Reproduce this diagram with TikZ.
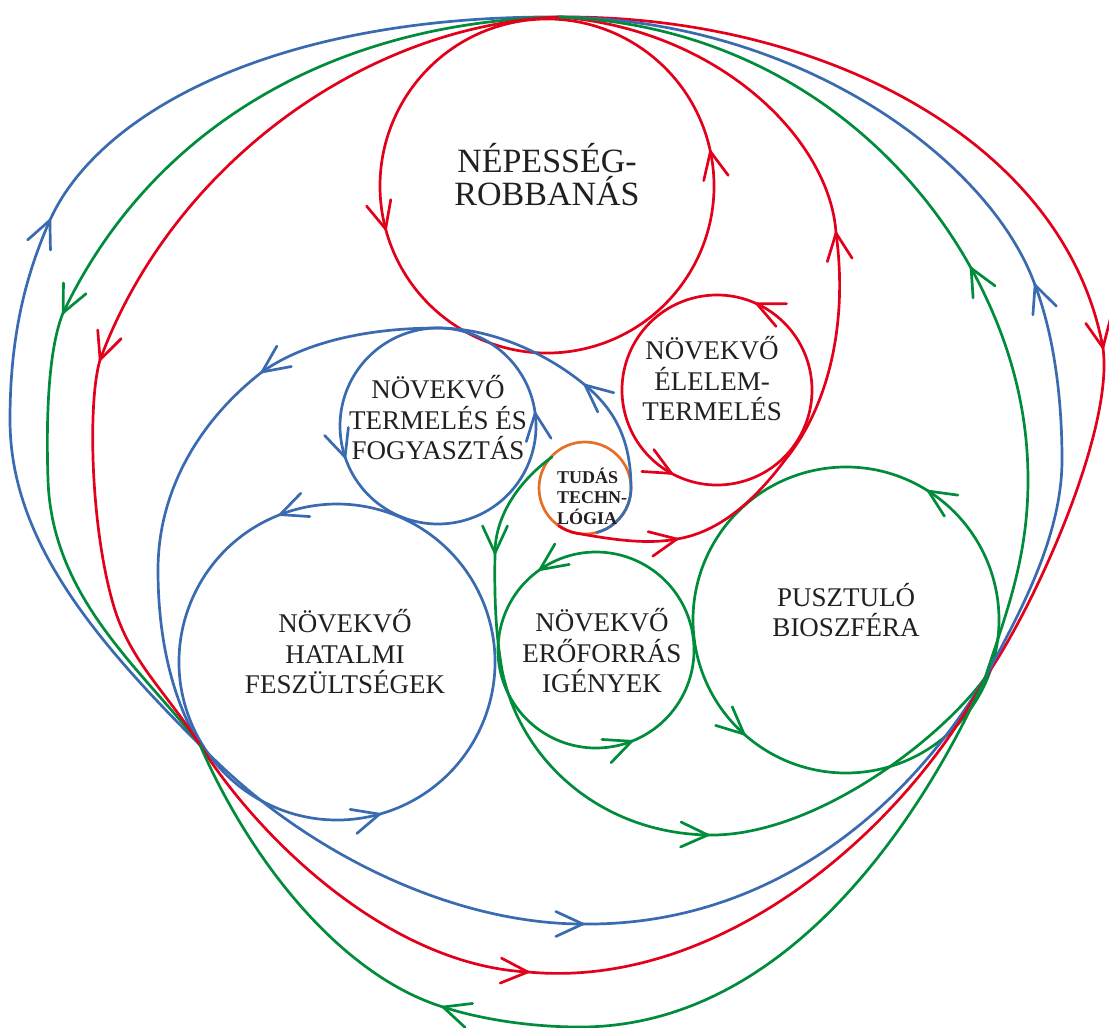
\documentclass[tikz,border=0pt]{standalone}
\usepackage{fontspec}
\setmainfont{Liberation Serif}
\usetikzlibrary{decorations.markings}
\definecolor{cred}{RGB}{226,0,26}
\definecolor{cblue}{RGB}{58,107,176}
\definecolor{cgreen}{RGB}{0,140,58}
\definecolor{corange}{RGB}{230,110,40}
\definecolor{ctext}{RGB}{35,31,32}
\begin{document}
\begin{tikzpicture}[x=1pt,y=-1pt,
 ln/.style={line width=2.7pt, line cap=round},
 rl/.style={ln, color=cred},
 bl/.style={ln, color=cblue},
 gl/.style={ln, color=cgreen},
 tip/.style={postaction={decorate}, decoration={markings,
   mark=at position 0.9995 with {\draw[line width=2.7pt, line cap=round, line join=miter] (-27pt,12.5pt) -- (0pt,0pt) -- (-27pt,-12.5pt);}}},
 lbl/.style={font=\fontsize{27}{30.5}\selectfont, text=ctext, align=center, inner sep=0pt},
]
\useasboundingbox (0,0) rectangle (1109,1028);
\coordinate (T) at (560,17);
\coordinate (L) at (200,745);
\coordinate (R) at (985,678);
\coordinate (Cnep) at (547,186);
\coordinate (Cele) at (717,390);
\coordinate (Cter) at (438,426);
\coordinate (Ctud) at (585,488);
\coordinate (Chat) at (337,662);
\coordinate (Ceri) at (596,650);
\coordinate (Cpus) at (846,620);

% ---- circles ----
\draw[rl,tip] (Cnep) ++(348:167) arc[start angle=348,end angle=165,radius=167];
\draw[rl,tip] (Cnep) ++(165:167) arc[start angle=165,end angle=-12,radius=167];
\draw[rl,tip] (Cele) ++(294.7:95) arc[start angle=294.7,end angle=118.5,radius=95];
\draw[rl,tip] (Cele) ++(118.5:95) arc[start angle=118.5,end angle=-65.3,radius=95];
\draw[bl,tip] (Cter) ++(352.4:98) arc[start angle=352.4,end angle=161.4,radius=98];
\draw[bl,tip] (Cter) ++(161.4:98) arc[start angle=161.4,end angle=-7.6,radius=98];
\draw[bl,tip] (Chat) ++(434.3:158) arc[start angle=434.3,end angle=248.8,radius=158];
\draw[bl,tip] (Chat) ++(248.8:158) arc[start angle=248.8,end angle=74.3,radius=158];
\draw[gl,tip] (Ceri) ++(428.6:98) arc[start angle=428.6,end angle=235,radius=98];
\draw[gl,tip] (Ceri) ++(235:98) arc[start angle=235,end angle=68.6,radius=98];
\draw[gl,tip] (Cpus) ++(302.5:153) arc[start angle=302.5,end angle=131.7,radius=153];
\draw[gl,tip] (Cpus) ++(131.7:153) arc[start angle=131.7,end angle=-57.5,radius=153];
\draw[ln, color=corange] (Ctud) circle[radius=46];

% ---- red: knowledge -> top ----
\draw[rl] (Ctud) ++(125:46) arc[start angle=125,end angle=100,radius=46];
\draw[rl,tip] (577,533.3) .. controls (610,539) and (645,545) .. (677,539);
\draw[rl] (677,539) .. controls (720,532) and (755,500) .. (785,460);
\draw[rl,tip] (785,460) .. controls (830,405) and (848,320) .. (836,233);
\draw[rl] (836,233) .. controls (830,140) and (720,30) .. (T);

% ---- blue: knowledge -> left ----
\draw[bl] (Ctud) ++(75:46) arc[start angle=75,end angle=0,radius=46];
\draw[bl,tip] (631,488) .. controls (631,440) and (615,410) .. (585,385);
\draw[bl] (585,385) .. controls (545,352) and (490,328) .. (438,328);
\draw[bl,tip] (438,328) .. controls (360,328) and (300,345) .. (262,372);
\draw[bl] (262,372) .. controls (200,420) and (158,490) .. (158,570) .. controls (158,630) and (169,694) .. (L);

% ---- green: knowledge -> right ----
\draw[gl,tip] (552,457) .. controls (520,480) and (495,515) .. (495,553);
\draw[gl,tip] (495,553) .. controls (494,610) and (497,640) .. (502,670) .. controls (520,760) and (600,833) .. (708,835);
\draw[gl] (708,835) .. controls (810,837) and (935,745) .. (R);

% ---- outer left ----
\draw[bl,tip] (L) .. controls (95,640) and (10,540) .. (10,420) .. controls (10,330) and (28,270) .. (50,220);
\draw[bl] (50,220) .. controls (100,110) and (280,15) .. (T);
\draw[gl,tip] (T) .. controls (330,22) and (150,130) .. (63,313);
\draw[gl] (63,313) .. controls (48,350) and (46,420) .. (48,480) .. controls (52,600) and (145,672) .. (L);
\draw[rl,tip] (T) .. controls (360,25) and (170,170) .. (100,360);
\draw[rl] (100,360) .. controls (88,400) and (90,520) .. (112,600) .. controls (128,660) and (165,690) .. (L);

% ---- outer right ----
\draw[rl,tip] (T) .. controls (820,15) and (1065,140) .. (1103,348);
\draw[rl] (1103,348) .. controls (1114,430) and (1035,606) .. (R);
\draw[bl,tip] (R) .. controls (1015,621) and (1062,540) .. (1062,460) .. controls (1062,390) and (1052,330) .. (1035,285);
\draw[bl] (1035,285) .. controls (990,160) and (800,20) .. (T);
\draw[gl,tip] (R) .. controls (1005,616) and (1028,560) .. (1028,480) .. controls (1028,400) and (1005,330) .. (971,268);
\draw[gl] (971,268) .. controls (900,140) and (760,25) .. (T);

% ---- bottom ----
\draw[bl,tip] (L) .. controls (300,850) and (450,924) .. (583,924);
\draw[bl] (583,924) .. controls (760,926) and (900,820) .. (R);
\draw[rl,tip] (L) .. controls (260,840) and (390,965) .. (528,972);
\draw[rl] (528,972) .. controls (720,990) and (905,830) .. (R);
\draw[gl] (R) .. controls (935,790) and (800,1027) .. (580,1027);
\draw[gl,tip] (580,1027) .. controls (530,1027) and (480,1019) .. (443,1007);
\draw[gl] (443,1007) .. controls (340,975) and (250,860) .. (L);

% ---- labels ----
\node[lbl, font=\fontsize{34}{33}\selectfont] (nep) at (547,175) {NÉPESSÉG-\\ROBBANÁS};
\node[lbl] (ele) at (712,379) {NÖVEKVŐ\\ÉLELEM-\\TERMELÉS};
\node[lbl] (ter) at (438,418) {NÖVEKVŐ\\TERMELÉS ÉS\\FOGYASZTÁS};
\node[lbl] (hat) at (345,652) {NÖVEKVŐ\\HATALMI\\FESZÜLTSÉGEK};
\node[lbl] (eri) at (602,651) {NÖVEKVŐ\\ERŐFORRÁS\\IGÉNYEK};
\node[lbl] (pus) at (846,610) {PUSZTULÓ\\BIOSZFÉRA};
\node[lbl, font=\bfseries\fontsize{18}{20.5}\selectfont, align=left, anchor=west] (tud) at (557,496) {TUDÁS\\TECHN-\\LÓGIA};
\end{tikzpicture}
\end{document}
